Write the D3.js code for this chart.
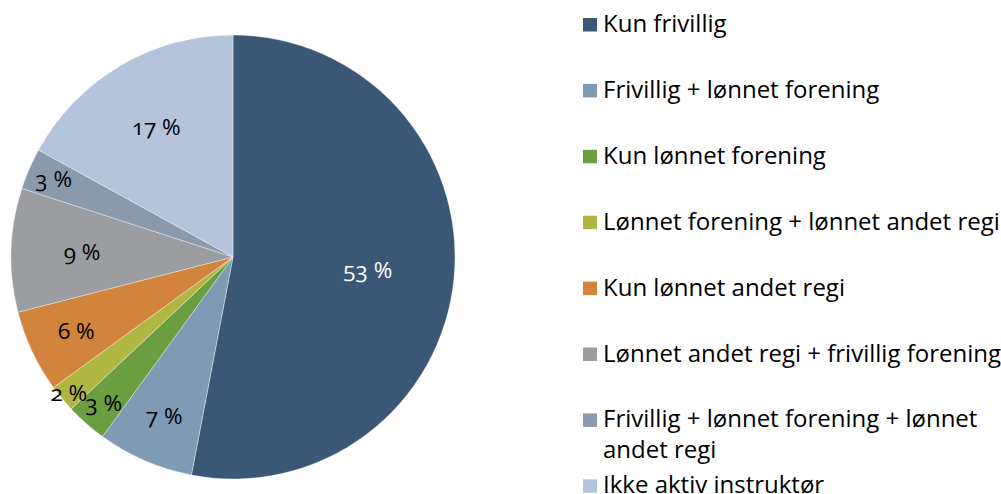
<!DOCTYPE html>
<html>
<head>
<meta charset="utf-8">
<script src="https://cdn.jsdelivr.net/npm/d3@7"></script>
<style>
  html, body { margin: 0; padding: 0; background: #fff; }
  svg { display: block; }
  text { font-family: "Open Sans", Lato, sans-serif; font-variant-numeric: oldstyle-nums; fill: #000; }
</style>
</head>
<body>
<svg id="chart" width="1001" height="494"></svg>
<script>
// Instruktørers tilknytning (andel i prosent)
const categories = [
  "Kun frivillig",
  "Frivillig + lønnet forening",
  "Kun lønnet forening",
  "Lønnet forening + lønnet andet regi",
  "Kun lønnet andet regi",
  "Lønnet andet regi + frivillig forening",
  "Frivillig + lønnet forening + lønnet andet regi",
  "Ikke aktiv instruktør"
];
const values = [53, 7, 3, 2, 6, 9, 3, 17];
const colors = ["#3a5875", "#7f9ab5", "#6a9e40", "#afb742", "#d3843c", "#9c9da1", "#8a9aad", "#b4c5db"];
const labelColors = ["#ffffff", "#000", "#000", "#000", "#000", "#000", "#000", "#000"];

const svg = d3.select("#chart");
const cx = 233, cy = 257, R = 222;

const fontSize = 24;

// Pie
const pie = d3.pie().sort(null).value(d => d.value);
const data = categories.map((c, i) => ({ name: c, value: values[i], i }));
const arcs = pie(data);
const arc = d3.arc().innerRadius(0).outerRadius(R);

const g = svg.append("g").attr("transform", `translate(${cx},${cy})`);
g.selectAll("path.slice")
  .data(arcs)
  .join("path")
  .attr("class", "slice")
  .attr("d", arc)
  .attr("fill", d => colors[d.data.i])
  .attr("stroke", "#ffffff")
  .attr("stroke-opacity", 0.6)
  .attr("stroke-width", 0.6);

// Smaller slices get their labels pushed towards the rim
function labelRadius(v) {
  if (v >= 50) return R * 0.61;
  if (v >= 9) return R * 0.68;
  if (v >= 5) return R * 0.78;
  if (v >= 3) return R * 0.88;
  return R * 0.96;
}

g.selectAll("text.pct")
  .data(arcs)
  .join("text")
  .attr("class", "pct")
  .attr("transform", d => {
    const r = labelRadius(d.data.value);
    const c = d3.arc().innerRadius(r).outerRadius(r).centroid(d);
    return `translate(${c[0]},${c[1]})`;
  })
  .attr("text-anchor", "middle")
  .attr("dy", "0.35em")
  .style("font-size", "22.5px")
  .style("fill", d => labelColors[d.data.i])
  .text(d => d.data.value + " %");

// Legend
const legX = 583, textX = 603, legY0 = 24.5, legStep = 65.9, lineH = 31, wrapW = 398;
const legend = svg.append("g");
data.forEach((d, i) => {
  const y = legY0 + i * legStep;
  legend.append("rect")
    .attr("x", legX).attr("y", y - 6.5)
    .attr("width", 14).attr("height", 13.5)
    .attr("fill", colors[i]);
  const t = legend.append("text")
    .attr("x", textX).attr("y", y + 7.5)
    .style("font-size", fontSize + "px");
  // word wrap
  const words = d.name.split(" ");
  let line = [];
  let tspan = t.append("tspan").attr("x", textX).attr("dy", 0);
  words.forEach(w => {
    line.push(w);
    tspan.text(line.join(" "));
    if (tspan.node().getComputedTextLength() > wrapW && line.length > 1) {
      line.pop();
      tspan.text(line.join(" "));
      line = [w];
      tspan = t.append("tspan").attr("x", textX).attr("dy", lineH).text(w);
    }
  });
});
</script>
</body>
</html>
